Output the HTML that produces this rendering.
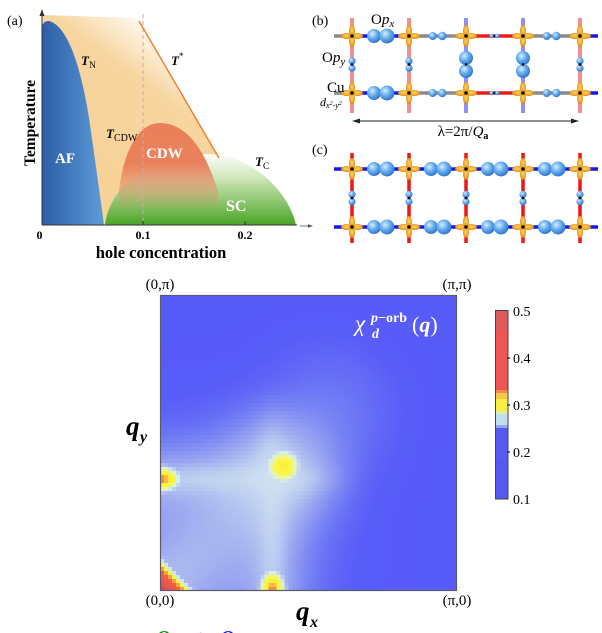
<!DOCTYPE html>
<html><head><meta charset="utf-8">
<style>
html,body{margin:0;padding:0;background:#fff;}
#wrap{position:relative;width:602px;height:633px;overflow:hidden;background:#fff;}
#hm{position:absolute;left:160px;top:295px;width:297px;height:296px;image-rendering:pixelated;background:#5a5cf6;}
svg{position:absolute;left:0;top:0;}
text{font-family:"Liberation Serif",serif;}
</style></head><body>
<div id="wrap">
<canvas id="hm" width="74" height="74"></canvas>
<svg width="602" height="633" viewBox="0 0 602 633" xmlns="http://www.w3.org/2000/svg">
<defs>
 <linearGradient id="afG" x1="0" y1="0" x2="1" y2="0">
  <stop offset="0" stop-color="#2c5ea8"/><stop offset="1" stop-color="#5d9bd7"/>
 </linearGradient>
 <linearGradient id="beG" gradientUnits="userSpaceOnUse" x1="90" y1="150" x2="175" y2="35">
  <stop offset="0" stop-color="#f7d39a" stop-opacity="1"/>
  <stop offset="0.6" stop-color="#f7d39a" stop-opacity="0.95"/>
  <stop offset="1" stop-color="#f7d39a" stop-opacity="0"/>
 </linearGradient>
 <linearGradient id="cdwG" gradientUnits="userSpaceOnUse" x1="0" y1="123" x2="0" y2="212">
  <stop offset="0" stop-color="#e9805a" stop-opacity="1"/>
  <stop offset="0.45" stop-color="#e9825c" stop-opacity="1"/>
  <stop offset="1" stop-color="#e9825c" stop-opacity="0"/>
 </linearGradient>
 <linearGradient id="scG" gradientUnits="userSpaceOnUse" x1="0" y1="153" x2="0" y2="225">
  <stop offset="0" stop-color="#ffffff"/>
  <stop offset="0.35" stop-color="#cfe6b8"/>
  <stop offset="1" stop-color="#4aa526"/>
 </linearGradient>
 <radialGradient id="ball" cx="0.38" cy="0.35" r="0.7">
  <stop offset="0" stop-color="#d4eeff"/><stop offset="0.5" stop-color="#62aaf0"/><stop offset="1" stop-color="#2d6fc4"/>
 </radialGradient>
 <radialGradient id="orG" cx="0.5" cy="0.45" r="0.6">
  <stop offset="0" stop-color="#ffd870"/><stop offset="0.6" stop-color="#f2a524"/><stop offset="1" stop-color="#c77a10"/>
 </radialGradient>
 <g id="cu">
  <ellipse cx="5.5" cy="0" rx="5.5" ry="3" fill="url(#orG)"/>
  <ellipse cx="-5.5" cy="0" rx="5.5" ry="3" fill="url(#orG)"/>
  <ellipse cx="0" cy="5.5" rx="3" ry="5.5" fill="url(#orG)"/>
  <ellipse cx="0" cy="-5.5" rx="3" ry="5.5" fill="url(#orG)"/>
  <circle r="1.8" fill="#111"/>
 </g>
 <g id="bigx"><circle cx="-6.5" r="7" fill="url(#ball)"/><circle cx="6.5" r="7.5" fill="url(#ball)"/></g>
 <g id="smx"><circle cx="-4.8" r="4" fill="url(#ball)"/><circle cx="4.8" r="4.2" fill="url(#ball)"/></g>
 <g id="tinyx"><circle cx="-2.8" r="2.2" fill="url(#ball)"/><circle r="1.3" fill="#111"/><circle cx="2.8" r="2.2" fill="url(#ball)"/></g>
 <g id="smy"><circle cy="-3.6" r="3.6" fill="url(#ball)"/><circle cy="3.6" r="3.6" fill="url(#ball)"/><circle r="1.4" fill="#111"/></g>
 <g id="bigy"><circle cy="-6.5" r="7" fill="url(#ball)"/><circle cy="6.5" r="7" fill="url(#ball)"/><circle r="1.4" fill="#111"/></g>
</defs>

<!-- ===== Panel (a) ===== -->
<text x="7" y="25" font-size="14">(a)</text>
<polygon points="42,15 136,18 219,158 219,225 42,225" fill="url(#beG)"/>
<path d="M42,225 L42,27 Q43,21 49,21 C68,26 81,68 89,118 C95,160 100,195 104,225 Z" fill="url(#afG)"/>
<path d="M105,225 C110,185 150,154 205,154 C255,154 290,195 296,225 Z" fill="url(#scG)"/>
<path d="M117,225 C117,165 133,123 160,123 C190,123 208,158 218,192 L220,225 Z" fill="url(#cdwG)"/>
<line x1="143" y1="14" x2="143" y2="225" stroke="#d9a3a8" stroke-width="1" stroke-dasharray="4,3"/>
<line x1="139" y1="21" x2="219" y2="158" stroke="#ef7a2a" stroke-width="1.4"/>
<line x1="42" y1="225" x2="297" y2="225" stroke="#333" stroke-width="1"/>
<line x1="42" y1="225" x2="42" y2="14" stroke="#333" stroke-width="1"/>
<polygon points="42,9 39.5,16 44.5,16" fill="#333"/>
<line x1="143" y1="225" x2="143" y2="221" stroke="#333" stroke-width="1"/>
<line x1="245" y1="225" x2="245" y2="221" stroke="#333" stroke-width="1"/>
<text x="39.5" y="239" font-size="12" font-weight="bold" text-anchor="middle">0</text>
<text x="143" y="239" font-size="12" font-weight="bold" text-anchor="middle">0.1</text>
<text x="245" y="239" font-size="12" font-weight="bold" text-anchor="middle">0.2</text>
<text x="161" y="258" font-size="16.5" font-weight="bold" text-anchor="middle">hole concentration</text>
<text transform="translate(35,123) rotate(-90)" font-size="15.5" font-weight="bold" text-anchor="middle">Temperature</text>
<text x="81" y="65" font-size="13" font-weight="bold" font-style="italic">T<tspan font-size="9.5" font-weight="normal" font-style="normal" dy="3">N</tspan></text>
<text x="171" y="65" font-size="13" font-weight="bold" font-style="italic">T<tspan font-size="9" font-weight="normal" font-style="normal" dy="-6">*</tspan></text>
<text x="106" y="138" font-size="13" font-weight="bold" font-style="italic">T<tspan font-size="10" font-weight="normal" font-style="normal" dy="3">CDW</tspan></text>
<text x="255" y="166" font-size="13" font-weight="bold" font-style="italic">T<tspan font-size="9.5" font-weight="normal" font-style="normal" dy="3">C</tspan></text>
<text x="55" y="163" font-size="15" font-weight="bold" fill="#fff">AF</text>
<text x="146" y="158" font-size="15" font-weight="bold" fill="#fff">CDW</text>
<text x="226" y="211" font-size="16" font-weight="bold" fill="#fff">SC</text>

<!-- ===== Panel (b) ===== -->
<text x="312" y="25" font-size="14">(b)</text>
<g stroke-width="4">
 <line x1="352" y1="18" x2="352" y2="113" stroke="#f58e8e"/>
 <line x1="409" y1="18" x2="409" y2="113" stroke="#f58e8e"/>
 <line x1="466" y1="18" x2="466" y2="113" stroke="#8f8ff7"/>
 <line x1="523" y1="18" x2="523" y2="113" stroke="#8f8ff7"/>
 <line x1="580" y1="18" x2="580" y2="113" stroke="#f58e8e"/>
</g>
<g stroke-width="3.5">
 <line x1="334" y1="36" x2="352" y2="36" stroke="#8a8a8a"/>
 <line x1="352" y1="36" x2="409" y2="36" stroke="#1515f0"/>
 <line x1="409" y1="36" x2="466" y2="36" stroke="#8a8a8a"/>
 <line x1="466" y1="36" x2="523" y2="36" stroke="#ee1a1a"/>
 <line x1="523" y1="36" x2="580" y2="36" stroke="#8a8a8a"/>
 <line x1="580" y1="36" x2="598" y2="36" stroke="#1515f0"/>
 <line x1="334" y1="93" x2="352" y2="93" stroke="#8a8a8a"/>
 <line x1="352" y1="93" x2="409" y2="93" stroke="#1515f0"/>
 <line x1="409" y1="93" x2="466" y2="93" stroke="#8a8a8a"/>
 <line x1="466" y1="93" x2="523" y2="93" stroke="#ee1a1a"/>
 <line x1="523" y1="93" x2="580" y2="93" stroke="#8a8a8a"/>
 <line x1="580" y1="93" x2="598" y2="93" stroke="#1515f0"/>
</g>
<use href="#bigx" x="380.5" y="36"/><use href="#bigx" x="380.5" y="93"/>
<use href="#smx" x="437.5" y="36"/><use href="#smx" x="437.5" y="93"/>
<use href="#tinyx" x="494.5" y="36"/><use href="#tinyx" x="494.5" y="93"/>
<use href="#smx" x="551.5" y="36"/><use href="#smx" x="551.5" y="93"/>
<use href="#smy" x="352" y="64.5"/><use href="#smy" x="409" y="64.5"/>
<use href="#bigy" x="466" y="64.5"/><use href="#bigy" x="523" y="64.5"/>
<use href="#smy" x="580" y="64.5"/>
<use href="#cu" x="352" y="36"/><use href="#cu" x="409" y="36"/><use href="#cu" x="466" y="36"/><use href="#cu" x="523" y="36"/><use href="#cu" x="580" y="36"/>
<use href="#cu" x="352" y="93"/><use href="#cu" x="409" y="93"/><use href="#cu" x="466" y="93"/><use href="#cu" x="523" y="93"/><use href="#cu" x="580" y="93"/>
<text x="371" y="24" font-size="15">O<tspan font-style="italic">p</tspan><tspan font-style="italic" font-size="11" dy="3">x</tspan></text>
<text x="322" y="62" font-size="15">O<tspan font-style="italic">p</tspan><tspan font-style="italic" font-size="11" dy="3">y</tspan></text>
<text x="327" y="92" font-size="15">Cu</text>
<text x="320" y="106" font-size="12" font-style="italic">d<tspan font-size="8" dy="2">x</tspan><tspan font-size="6" dy="-3">2</tspan><tspan font-size="8" dy="3">-y</tspan><tspan font-size="6" dy="-3">2</tspan></text>
<line x1="358" y1="121" x2="573" y2="121" stroke="#222" stroke-width="0.9"/>
<polygon points="352,121 360,118.5 360,123.5" fill="#222"/>
<polygon points="579,121 571,118.5 571,123.5" fill="#222"/>
<text x="463" y="136" font-size="15" text-anchor="middle">λ=2π/<tspan font-style="italic">Q</tspan><tspan font-size="10" font-weight="bold" dy="3">a</tspan></text>

<!-- ===== Panel (c) ===== -->
<text x="312" y="154" font-size="14">(c)</text>
<g stroke="#ee1515" stroke-width="3.5">
 <line x1="352" y1="153" x2="352" y2="243"/><line x1="409" y1="153" x2="409" y2="243"/>
 <line x1="466" y1="153" x2="466" y2="243"/><line x1="523" y1="153" x2="523" y2="243"/>
 <line x1="580" y1="153" x2="580" y2="243"/>
</g>
<g stroke="#1515f0" stroke-width="3.5">
 <line x1="334" y1="169" x2="598" y2="169"/><line x1="334" y1="227" x2="598" y2="227"/>
</g>
<use href="#bigx" x="380.5" y="169"/><use href="#bigx" x="437.5" y="169"/><use href="#bigx" x="494.5" y="169"/><use href="#bigx" x="551.5" y="169"/>
<use href="#bigx" x="380.5" y="227"/><use href="#bigx" x="437.5" y="227"/><use href="#bigx" x="494.5" y="227"/><use href="#bigx" x="551.5" y="227"/>
<use href="#smy" x="352" y="198"/><use href="#smy" x="409" y="198"/><use href="#smy" x="466" y="198"/><use href="#smy" x="523" y="198"/><use href="#smy" x="580" y="198"/>
<use href="#cu" x="352" y="169"/><use href="#cu" x="409" y="169"/><use href="#cu" x="466" y="169"/><use href="#cu" x="523" y="169"/><use href="#cu" x="580" y="169"/>
<use href="#cu" x="352" y="227"/><use href="#cu" x="409" y="227"/><use href="#cu" x="466" y="227"/><use href="#cu" x="523" y="227"/><use href="#cu" x="580" y="227"/>
<line x1="300" y1="226" x2="310" y2="226" stroke="#555" stroke-width="0.8"/>
<polygon points="313,226 308,224.3 308,227.7" fill="#555"/>

<!-- ===== Heatmap ===== -->
<rect x="160.5" y="295.5" width="296" height="295" fill="none" stroke="#5a5a6a" stroke-width="1.2"/>
<text x="160" y="289" font-size="15" text-anchor="middle">(0,π)</text>
<text x="457" y="289" font-size="15" text-anchor="middle">(π,π)</text>
<text x="160" y="605" font-size="15" text-anchor="middle">(0,0)</text>
<text x="457" y="605" font-size="15" text-anchor="middle">(π,0)</text>
<text x="126" y="435" font-size="27" font-weight="bold" font-style="italic">q</text>
<text x="140" y="442" font-size="16" font-weight="bold" font-style="italic">y</text>
<text x="296" y="620" font-size="27" font-weight="bold" font-style="italic">q</text>
<text x="310" y="627" font-size="16" font-weight="bold" font-style="italic">x</text>
<text x="355" y="331" font-size="23" font-style="italic" fill="#fff">χ</text>
<text x="371" y="322" font-size="14" font-weight="bold" fill="#fff"><tspan font-style="italic">p</tspan>−orb</text>
<text x="372" y="338" font-size="14" font-weight="bold" font-style="italic" fill="#fff">d</text>
<text x="412" y="332" font-size="22" fill="#fff">(<tspan font-style="italic" font-weight="bold">q</tspan>)</text>

<!-- colorbar -->
<rect x="495" y="310" width="13" height="20" fill="#df5a5c"/>
<rect x="495" y="330" width="13" height="60" fill="#f05555"/>
<rect x="495" y="390" width="13" height="3" fill="#f58a50"/>
<rect x="495" y="393" width="13" height="6" fill="#f8c84a"/>
<rect x="495" y="399" width="13" height="12" fill="#f8ee40"/>
<rect x="495" y="411" width="13" height="3" fill="#dcefa8"/>
<rect x="495" y="414" width="13" height="11" fill="#bfe0ec"/>
<rect x="495" y="425" width="13" height="3" fill="#96a8ec"/>
<rect x="495" y="428" width="13" height="71" fill="#5658f2"/>
<rect x="495" y="440" width="13" height="20" fill="#5a5cf0" opacity="0.6"/>
<rect x="495.5" y="310.5" width="12.5" height="188.5" fill="none" stroke="#444" stroke-width="1"/>
<g stroke="#222" stroke-width="1.2">
 <line x1="507" y1="358" x2="510" y2="358"/><line x1="507" y1="405" x2="510" y2="405"/><line x1="507" y1="452" x2="510" y2="452"/>
</g>
<text x="513" y="316" font-size="14">0.5</text>
<text x="513" y="363" font-size="14">0.4</text>
<text x="513" y="410" font-size="14">0.3</text>
<text x="513" y="457" font-size="14">0.2</text>
<text x="513" y="504" font-size="14">0.1</text>

<!-- bottom cut-off glyphs -->
<text x="156" y="644" font-size="20" font-weight="bold" font-style="italic" fill="#1a8c1a">Q</text>
<text x="195" y="644" font-size="20" font-weight="bold" fill="#f070f0">+</text>
<text x="220" y="644" font-size="20" font-weight="bold" font-style="italic" fill="#2020e8">Q</text>
</svg>
</div>
<script>
(function(){
var c=document.getElementById('hm');var N=74;c.width=N;c.height=N;
var ctx=c.getContext('2d');var img=ctx.createImageData(N,N);var d=img.data;
function sm(a,b,x){var t=Math.min(1,Math.max(0,(x-a)/(b-a)));return t*t*(3-2*t);}
var S=[[0.10,84,86,248],[0.15,88,92,248],[0.19,120,132,244],[0.225,160,172,240],[0.255,200,218,240],[0.268,215,238,238],[0.278,235,245,160],[0.285,250,248,70],[0.308,250,240,60],[0.318,250,190,60],[0.33,240,100,70],[0.40,240,85,80],[0.5,190,70,70]];
function cm(f){if(f<=S[0][0])return[S[0][1],S[0][2],S[0][3]];
 for(var k=0;k<S.length-1;k++){if(f<=S[k+1][0]){var t=(f-S[k][0])/(S[k+1][0]-S[k][0]);
  return[S[k][1]+t*(S[k+1][1]-S[k][1]),S[k][2]+t*(S[k+1][2]-S[k][2]),S[k][3]+t*(S[k+1][3]-S[k][3])];}}
 var l=S[S.length-1];return[l[1],l[2],l[3]];}
var E=Math.exp;
for(var j=0;j<N;j++){for(var i=0;i<N;i++){
 var u=(i+0.5)/N,v=1-(j+0.5)/N;
 var blob=E(-(u*u+v*v)/(2*0.38*0.38));
 var dv=v-0.378,du=u-0.378;
 var hb=(0.55*E(-dv*dv/(2*0.1*0.1))+0.25*E(-dv*dv/(2*0.035*0.035)))*(1-sm(0.42,0.72,u));
 var vb=(0.55*E(-du*du/(2*0.1*0.1))+0.25*E(-du*du/(2*0.035*0.035)))*(1-sm(0.42,0.72,v));
 var dp=(u-v)/1.4142,al=(u+v)/1.4142;
 var dg=E(-dp*dp/(2*0.15*0.15))*(1-sm(0.6,1.25,al));
 var tp=0.06*E(-((u-0.55)*(u-0.55)+(v-0.75)*(v-0.75))/(2*0.15*0.15));
 var A=Math.min(1,0.35*blob+0.42*dg+tp);
 var L=1-(1-A)*(1-Math.min(1,hb))*(1-Math.min(1,vb));
 var f=0.14+0.122*L;
 var r2=(u-0.415)*(u-0.415)+(v-0.42)*(v-0.42);
 f=Math.max(f,0.14+0.135*E(-r2/(2*0.085*0.085)));
 var cap=0.14+0.2*E(-r2/(2*0.05*0.05));
 f=Math.max(f,Math.min(cap,0.262+0.048*E(-r2/(2*0.025*0.025))));
 var el=u*u/(2*0.045*0.045)+(v-0.378)*(v-0.378)/(2*0.022*0.022);
 var cl=0.14+0.2*E(-(u*u/(2*0.065*0.065)+(v-0.378)*(v-0.378)/(2*0.04*0.04)));
 f=Math.max(f,Math.min(cl,0.258+0.07*E(-el)));
 var eb=(u-0.378)*(u-0.378)/(2*0.022*0.022)+v*v/(2*0.045*0.045);
 var cb=0.14+0.2*E(-((u-0.378)*(u-0.378)/(2*0.04*0.04)+v*v/(2*0.065*0.065)));
 f=Math.max(f,Math.min(cb,0.258+0.07*E(-eb)));
 f=Math.max(f,0.5-2.2*(u+v));
 var col=cm(f);var p=(j*N+i)*4;
 d[p]=col[0];d[p+1]=col[1];d[p+2]=col[2];d[p+3]=255;}}
ctx.putImageData(img,0,0);
})();
</script>
</body></html>
